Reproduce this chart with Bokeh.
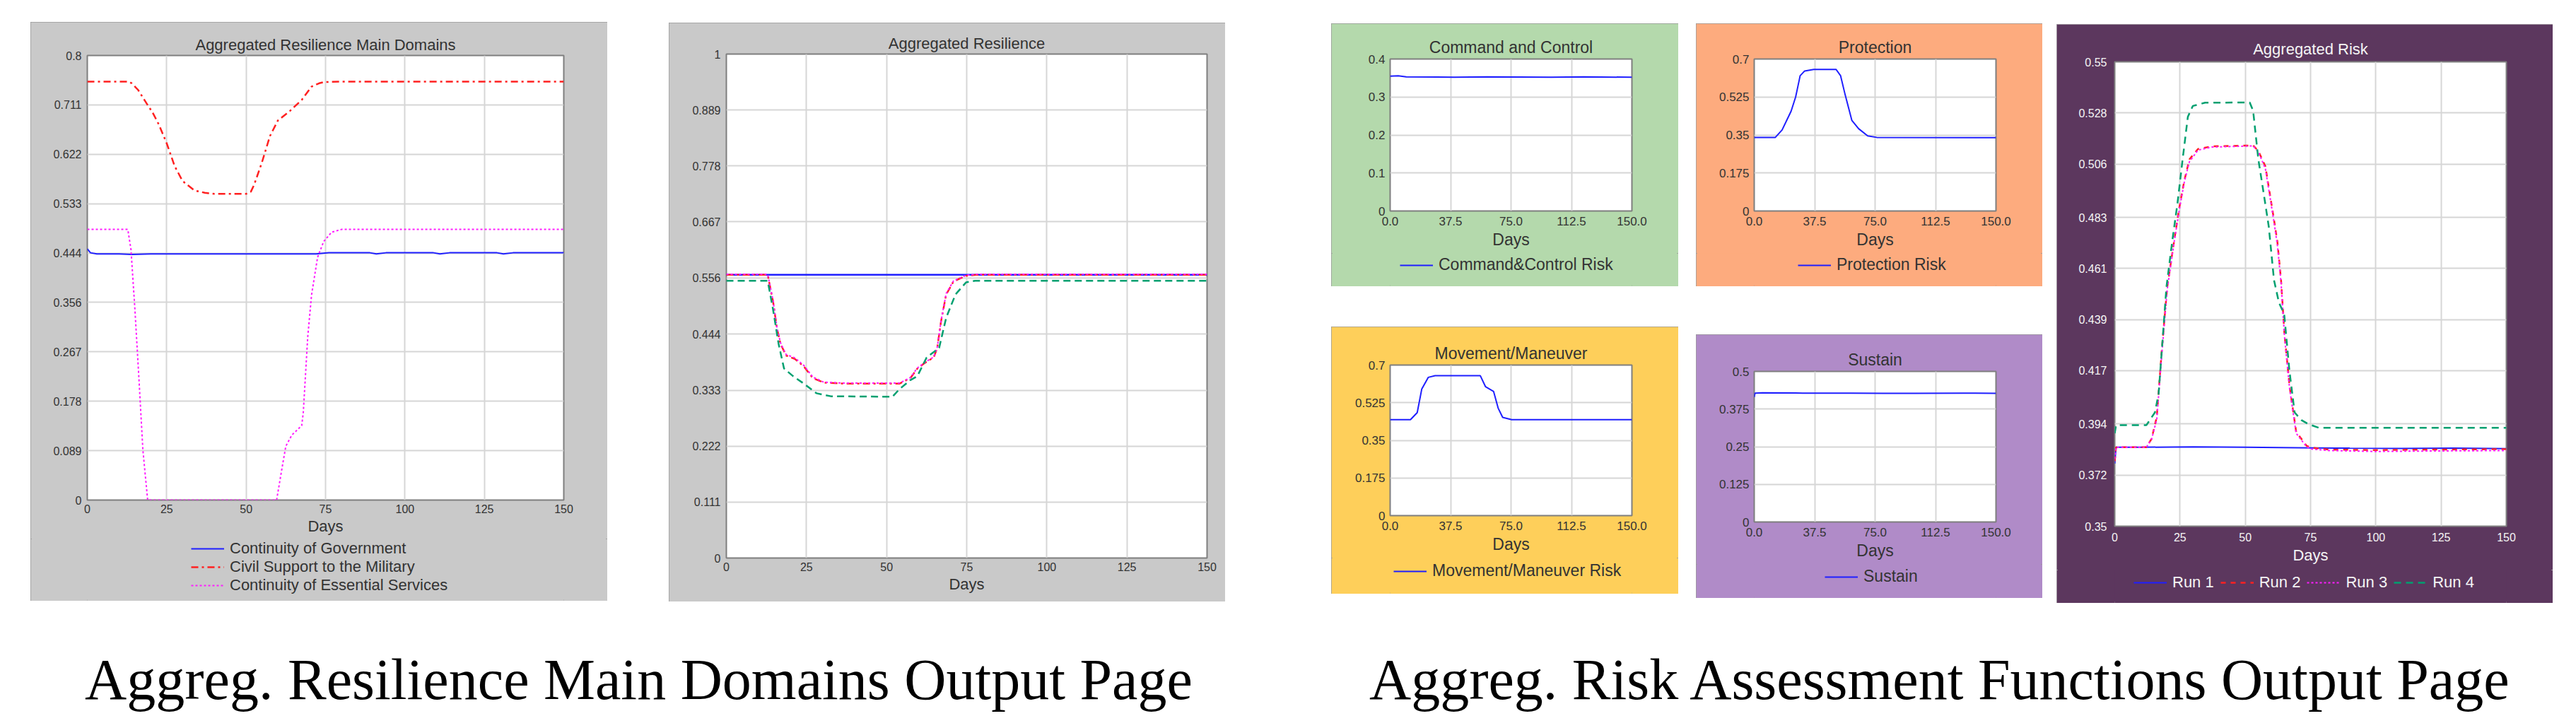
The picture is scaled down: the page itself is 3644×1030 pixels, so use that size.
from bokeh.plotting import figure
from bokeh.models import Range1d, FixedTicker, Label, Legend, LegendItem, Spacer, Title
from bokeh.layouts import row, column
from bokeh.embed import file_html
from bokeh.resources import INLINE

FONT = "Liberation Sans"

# ---------------- data ----------------
# Panel 1: Aggregated Resilience Main Domains
p1_ticks_y = [0, 0.089, 0.178, 0.267, 0.356, 0.444, 0.533, 0.622, 0.711, 0.8]
p1_labels_y = ["0", "0.089", "0.178", "0.267", "0.356", "0.444", "0.533", "0.622", "0.711", "0.8"]
ticks_x_25 = [0, 25, 50, 75, 100, 125, 150]
labels_x_25 = ["0", "25", "50", "75", "100", "125", "150"]

gov_days = [0, 1, 3, 10, 14, 20, 40, 60, 72, 76, 89, 91, 94, 109, 111, 114, 129, 131, 134, 150]
gov_vals = [0.452, 0.445, 0.443, 0.443, 0.442, 0.443, 0.443, 0.443, 0.443, 0.445, 0.445, 0.443, 0.445, 0.445, 0.443, 0.445, 0.445, 0.443, 0.445, 0.445]
civ_days = [0, 13, 14, 16, 18.75, 20.5, 22.5, 25, 27.5, 30, 33.75, 37, 40, 50, 51.5, 52.5, 55, 57.5, 60, 63.75, 67.5, 70.6, 73, 74.4, 80, 150]
civ_vals = [0.753, 0.753, 0.750, 0.738, 0.713, 0.698, 0.676, 0.642, 0.601, 0.574, 0.557, 0.553, 0.551, 0.551, 0.555, 0.567, 0.608, 0.655, 0.683, 0.700, 0.720, 0.744, 0.750, 0.752, 0.753, 0.753]
ess_days = [0, 12.75, 13.75, 15, 16.25, 17.5, 19, 59.6, 61.25, 62.5, 64.4, 67.5, 68, 69.4, 70.6, 72.5, 74.4, 76.9, 80, 150]
ess_vals = [0.487, 0.487, 0.451, 0.342, 0.219, 0.09, 0, 0, 0.056, 0.097, 0.117, 0.134, 0.158, 0.294, 0.369, 0.437, 0.465, 0.482, 0.487, 0.487]

# Panel 2: Aggregated Resilience
p2_ticks_y = [0, 0.111, 0.222, 0.333, 0.444, 0.556, 0.667, 0.778, 0.889, 1]
p2_labels_y = ["0", "0.111", "0.222", "0.333", "0.444", "0.556", "0.667", "0.778", "0.889", "1"]
ar1_days = [0, 30, 60, 90, 120, 150]
ar1_vals = [0.562, 0.562, 0.562, 0.562, 0.562, 0.562]
ar2_days = [0, 12.9, 14.6, 15.8, 16.9, 18.6, 21.4, 24.2, 27, 30.4, 37, 54, 57.4, 59.6, 61.9, 64.7, 65.8, 67, 68.6, 70.9, 74.8, 78, 150]
ar2_vals = [0.562, 0.562, 0.508, 0.455, 0.425, 0.402, 0.395, 0.380, 0.357, 0.348, 0.346, 0.346, 0.357, 0.376, 0.387, 0.398, 0.417, 0.470, 0.523, 0.549, 0.560, 0.562, 0.562]
ar3_days = [0, 12.9, 14.6, 15.8, 16.9, 18.6, 21.4, 24.2, 27, 30.4, 37, 54, 57.4, 59.6, 61.9, 64.7, 65.8, 67, 68.6, 70.9, 74.8, 78, 150]
ar3_vals = [0.563, 0.563, 0.510, 0.457, 0.427, 0.404, 0.397, 0.382, 0.359, 0.349, 0.347, 0.347, 0.358, 0.377, 0.388, 0.399, 0.418, 0.471, 0.525, 0.550, 0.561, 0.563, 0.563]
ar4_days = [0, 12.9, 14.6, 16.3, 18, 20.8, 24.2, 28.1, 32.6, 51.8, 54, 57.4, 59.6, 62.5, 66.4, 68.6, 71.5, 74.8, 77.6, 150]
ar4_vals = [0.550, 0.550, 0.492, 0.425, 0.376, 0.361, 0.346, 0.327, 0.321, 0.320, 0.335, 0.353, 0.361, 0.398, 0.417, 0.477, 0.523, 0.547, 0.550, 0.550]

# Small panels
ticks_x_375 = [0, 37.5, 75, 112.5, 150]
labels_x_375 = ["0.0", "37.5", "75.0", "112.5", "150.0"]
cc_ticks_y = [0, 0.1, 0.2, 0.3, 0.4]
cc_labels_y = ["0", "0.1", "0.2", "0.3", "0.4"]
cc_days = [0, 5, 10, 40, 60, 100, 120, 150]
cc_vals = [0.355, 0.356, 0.353, 0.352, 0.353, 0.352, 0.353, 0.352]

pr_ticks_y = [0, 0.175, 0.35, 0.525, 0.7]
pr_labels_y = ["0", "0.175", "0.35", "0.525", "0.7"]
pr_days = [0, 13.1, 17.3, 22.9, 25.7, 28.5, 31.3, 36.9, 50.8, 53.6, 56.4, 60.6, 64.8, 70.4, 76, 150]
pr_vals = [0.339, 0.339, 0.373, 0.460, 0.525, 0.623, 0.645, 0.652, 0.652, 0.623, 0.536, 0.417, 0.379, 0.346, 0.339, 0.338]

mm_days = [0, 12.6, 16.8, 19.6, 23.7, 27.9, 55.9, 59.2, 64.2, 67, 69.8, 75.4, 150]
mm_vals = [0.446, 0.446, 0.479, 0.588, 0.643, 0.651, 0.651, 0.599, 0.577, 0.500, 0.457, 0.446, 0.446]

su_ticks_y = [0, 0.125, 0.25, 0.375, 0.5]
su_labels_y = ["0", "0.125", "0.25", "0.375", "0.5"]
su_days = [0, 0.5, 5, 30, 60, 80, 100, 130, 150]
su_vals = [0.415, 0.428, 0.429, 0.428, 0.428, 0.427, 0.427, 0.428, 0.427]

# Panel 7: Aggregated Risk
p7_ticks_y = [0.35, 0.372, 0.394, 0.417, 0.439, 0.461, 0.483, 0.506, 0.528, 0.55]
p7_labels_y = ["0.35", "0.372", "0.394", "0.417", "0.439", "0.461", "0.483", "0.506", "0.528", "0.55"]
run1_days = [0, 0.5, 10, 30, 50, 70, 90, 110, 130, 150]
run1_vals = [0.377, 0.384, 0.384, 0.3842, 0.384, 0.3838, 0.3836, 0.3835, 0.3836, 0.3834]
run2_days = [0, 0.5, 12.1, 14.1, 16.1, 18.1, 20.1, 22.7, 24.7, 26.6, 28.6, 31.9, 37.2, 53, 55, 57.7, 61, 62.3, 63.7, 65, 67, 69.5, 73.5, 75.5, 82, 100, 120, 150]
run2_vals = [0.378, 0.384, 0.384, 0.3876, 0.397, 0.427, 0.453, 0.4725, 0.487, 0.4986, 0.508, 0.5125, 0.5136, 0.514, 0.5116, 0.505, 0.482, 0.4725, 0.456, 0.433, 0.410, 0.3906, 0.3846, 0.3838, 0.383, 0.3828, 0.383, 0.3832]
run3_days = [0, 0.5, 12.1, 14.1, 16.1, 18.1, 20.1, 22.7, 24.7, 26.6, 28.6, 31.9, 37.2, 53, 55, 57.7, 61, 62.3, 63.7, 65, 67, 69.5, 73.5, 75.5, 82, 100, 120, 150]
run3_vals = [0.379, 0.384, 0.384, 0.3874, 0.396, 0.425, 0.452, 0.4720, 0.486, 0.4980, 0.507, 0.5120, 0.5133, 0.5138, 0.5112, 0.504, 0.481, 0.4710, 0.455, 0.432, 0.409, 0.3900, 0.3842, 0.3832, 0.3826, 0.3822, 0.3824, 0.3826]
run4_days = [0, 0.5, 12.1, 15.4, 16.8, 18.1, 19.8, 22, 24, 26, 28, 29.9, 34.6, 51.7, 53, 55, 57, 59, 61, 62.9, 64.9, 66.9, 68.9, 71.5, 74.1, 78.1, 150]
run4_vals = [0.390, 0.3935, 0.3935, 0.399, 0.4071, 0.4267, 0.453, 0.4725, 0.4888, 0.508, 0.5263, 0.531, 0.5324, 0.5325, 0.529, 0.508, 0.4937, 0.479, 0.456, 0.4463, 0.4414, 0.417, 0.399, 0.3957, 0.394, 0.3924, 0.3924]

captions = ["Aggreg. Resilience Main Domains Output Page", "Aggreg. Risk Assessment Functions Output Page"]

BLUE = "#1f1fff"
RED = "#ff2020"
MAG = "#ff1cff"
GREEN = "#00a070"


def make_panel(w, h, left, right, top, bottom, bg, title, y_range, yticks, ylabels, xticks, xlabels,
               series, leg_h=0, leg_loc=(0, 0), leg_orient="vertical", txt="#333333",
               title_standoff=6, tick_fs=16, title_fs=22, days_fs=22, leg_fs=22, x_standoff=6,
               y_standoff=8, days_standoff=3, leg_spacing=0, border="#9a9a9a"):
    p = figure(width=w, height=h - leg_h, output_backend="svg", toolbar_location=None,
               x_range=Range1d(0, 150), y_range=Range1d(*y_range),
               min_border_left=left, min_border_right=right,
               min_border_top=top, min_border_bottom=bottom)
    p.background_fill_color = "white"
    p.border_fill_color = bg
    p.outline_line_color = "#7f7f7f"
    p.outline_line_width = 2

    p.title = Title(text=title, align="center", text_font=FONT, text_font_size=f"{title_fs}px",
                    text_font_style="normal", text_color=txt, standoff=title_standoff)

    p.xaxis.ticker = FixedTicker(ticks=xticks)
    p.yaxis.ticker = FixedTicker(ticks=yticks)
    p.xaxis.major_label_overrides = {t: l for t, l in zip(xticks, xlabels)}
    p.yaxis.major_label_overrides = {t: l for t, l in zip(yticks, ylabels)}
    for ax in (p.xaxis, p.yaxis):
        ax.axis_line_color = None
        ax.major_tick_out = 0
        ax.major_tick_in = 0
        ax.minor_tick_line_color = None
        ax.major_label_text_font = FONT
        ax.major_label_text_font_size = f"{tick_fs}px"
        ax.major_label_text_color = txt
    p.xaxis.major_label_standoff = x_standoff
    p.yaxis.major_label_standoff = y_standoff
    p.xaxis.axis_label = "Days"
    p.xaxis.axis_label_text_font = FONT
    p.xaxis.axis_label_text_font_size = f"{days_fs}px"
    p.xaxis.axis_label_text_font_style = "normal"
    p.xaxis.axis_label_text_color = txt
    p.xaxis.axis_label_standoff = days_standoff

    p.xgrid.ticker = FixedTicker(ticks=xticks)
    p.ygrid.ticker = FixedTicker(ticks=yticks)
    for g in (p.xgrid, p.ygrid):
        g.grid_line_color = "#d6d6d6"
        g.grid_line_width = 2

    for s in series:
        p.line(s["x"], s["y"], line_color=s["color"], line_width=s.get("width", 2),
               line_dash=s.get("dash", "solid"))

    box_styles = {"outline": "2px solid " + border, "outline-offset": "-2px",
                  "background-color": bg}
    labelled = [s for s in series if s.get("label")]
    if not labelled:
        return column(p, styles=box_styles)

    # legend strip below the chart (its frame is aligned with the chart frame); its view
    # range lies outside the data so that only the legend entries show
    lf = figure(width=w, height=leg_h, output_backend="svg", toolbar_location=None,
                x_range=Range1d(-20, -10), y_range=Range1d(-20, -10), min_border=0,
                min_border_left=0, min_border_right=0, min_border_top=0, min_border_bottom=0)
    lf.background_fill_color = bg
    lf.border_fill_color = bg
    lf.outline_line_color = None
    lf.axis.visible = False
    lf.grid.visible = False
    items = []
    for s in labelled:
        r = lf.line(s["x"], s["y"], line_color=s["color"], line_width=s.get("width", 2),
                    line_dash=s.get("dash", "solid"))
        items.append(LegendItem(label=s["label"], renderers=[r]))
    leg = Legend(items=items, location=leg_loc, orientation=leg_orient,
                 background_fill_alpha=0, border_line_alpha=0, padding=0, margin=0,
                 spacing=leg_spacing, glyph_width=47, glyph_height=20, label_standoff=8,
                 label_text_font=FONT, label_text_font_size=f"{leg_fs}px",
                 label_text_color=txt)
    lf.add_layout(leg)
    return column(p, lf, styles=box_styles)


# Panel 1  (x 43-859, y 31-850; legend strip from y 762)
p1 = make_panel(816, 819, 80, 62, 47, 55, "#c9c9c9", "Aggregated Resilience Main Domains",
                (0, 0.8), p1_ticks_y, p1_labels_y, ticks_x_25, labels_x_25,
                [dict(x=gov_days, y=gov_vals, color=BLUE, label="Continuity of Government"),
                 dict(x=civ_days, y=civ_vals, color=RED, dash="10 5 3 5", width=2.5, label="Civil Support to the Military"),
                 dict(x=ess_days, y=ess_vals, color=MAG, dash="3 3", width=2, label="Continuity of Essential Services")],
                leg_h=88, leg_loc=(147, 9), title_standoff=6)

# Panel 2
p2 = make_panel(787, 819, 81, 26, 44, 62, "#c9c9c9", "Aggregated Resilience",
                (0, 1), p2_ticks_y, p2_labels_y, ticks_x_25, labels_x_25,
                [dict(x=ar1_days, y=ar1_vals, color=BLUE, width=2.5),
                 dict(x=ar2_days, y=ar2_vals, color=RED, dash="10 5 3 5", width=2.5),
                 dict(x=ar3_days, y=ar3_vals, color=MAG, dash="3 3", width=2),
                 dict(x=ar4_days, y=ar4_vals, color=GREEN, dash="10 6", width=2.5)],
                title_standoff=5)

small = dict(tick_fs=17, title_fs=23, days_fs=23, leg_fs=23, x_standoff=8, y_standoff=7,
             days_standoff=4, title_standoff=8)
p3 = make_panel(491, 372, 83, 66, 50, 60, "#b4d9ac", "Command and Control",
                (0, 0.4), cc_ticks_y, cc_labels_y, ticks_x_375, labels_x_375,
                [dict(x=cc_days, y=cc_vals, color=BLUE, label="Command&Control Risk")],
                leg_h=47, leg_loc=(14, 17), **small)
p4 = make_panel(490, 372, 82, 66, 50, 60, "#fdab7e", "Protection",
                (0, 0.7), pr_ticks_y, pr_labels_y, ticks_x_375, labels_x_375,
                [dict(x=pr_days, y=pr_vals, color=BLUE, label="Protection Risk")],
                leg_h=47, leg_loc=(62, 17), **small)
p5 = make_panel(491, 378, 83, 66, 54, 60, "#fecf5a", "Movement/Maneuver",
                (0, 0.7), pr_ticks_y, pr_labels_y, ticks_x_375, labels_x_375,
                [dict(x=mm_days, y=mm_vals, color=BLUE, label="Movement/Maneuver Risk")],
                leg_h=51, leg_loc=(5, 19), **small)
p6 = make_panel(490, 373, 82, 66, 52, 60, "#b08bc8", "Sustain",
                (0, 0.5), su_ticks_y, su_labels_y, ticks_x_375, labels_x_375,
                [dict(x=su_days, y=su_vals, color=BLUE, label="Sustain")],
                leg_h=48, leg_loc=(100, 17), **small)

p7 = make_panel(702, 819, 82, 66, 53, 62, "#5c375e", "Aggregated Risk",
                (0.35, 0.55), p7_ticks_y, p7_labels_y, ticks_x_25, labels_x_25,
                [dict(x=run1_days, y=run1_vals, color=BLUE, width=2, label="Run 1"),
                 dict(x=run2_days, y=run2_vals, color=RED, dash="7 7", width=2.5, label="Run 2"),
                 dict(x=run3_days, y=run3_vals, color=MAG, dash="3 3", width=2, label="Run 3"),
                 dict(x=run4_days, y=run4_vals, color=GREEN, dash="10 7", width=2.5, label="Run 4")],
                leg_h=47, leg_loc=(27, 16), leg_orient="horizontal", txt="#f4f4f4",
                title_standoff=12, x_standoff=9, y_standoff=11, days_standoff=4, leg_spacing=9,
                border="#b0b0b0")

cap = figure(width=3644, height=169, output_backend="svg", toolbar_location=None,
             x_range=Range1d(0, 1), y_range=Range1d(0, 1), min_border=0,
             min_border_left=0, min_border_right=0, min_border_top=0, min_border_bottom=0)
cap.axis.visible = False
cap.grid.visible = False
cap.outline_line_color = None
for cx, t in zip([903, 2745], captions):
    cap.add_layout(Label(x=cx, y=61, x_units="screen", y_units="screen", text=t,
                         text_align="center", text_baseline="alphabetic",
                         text_font="Liberation Serif", text_font_size="82px", text_color="black"))

top_row = row(
    Spacer(width=43, height=10),
    column(Spacer(width=10, height=31), p1),
    Spacer(width=87, height=10),
    column(Spacer(width=10, height=32), p2),
    Spacer(width=150, height=10),
    column(Spacer(width=10, height=33), p3, Spacer(width=10, height=57), p5),
    Spacer(width=25, height=10),
    column(Spacer(width=10, height=33), p4, Spacer(width=10, height=68), p6),
    Spacer(width=20, height=10),
    column(Spacer(width=10, height=34), p7),
)
layout = column(top_row, cap)

open("out.html", "w").write(file_html(layout, INLINE))
